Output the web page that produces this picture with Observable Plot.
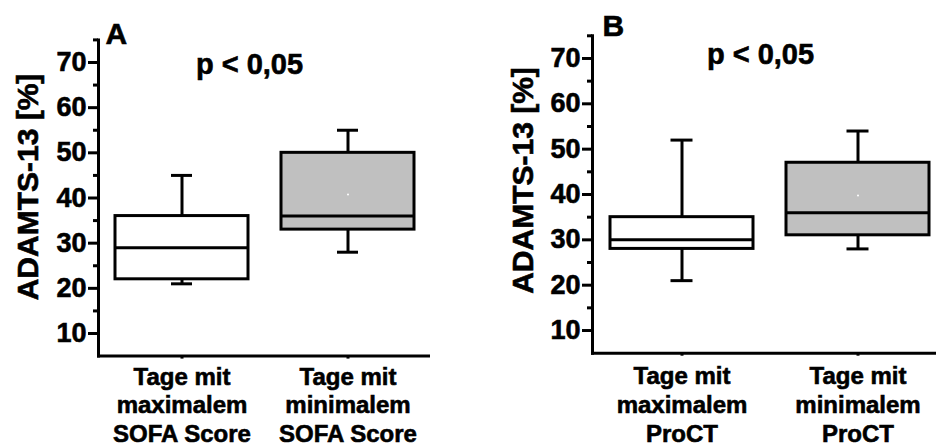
<!DOCTYPE html>
<html>
<head>
<meta charset="utf-8">
<script src="https://cdn.jsdelivr.net/npm/d3@7"></script>
<script src="https://cdn.jsdelivr.net/npm/@observablehq/plot@0.6"></script>
<style>
  html, body { margin: 0; padding: 0; background: #fff; }
  #wrap { display: flex; flex-direction: row; width: 936px; height: 447px; }
  svg { display: block; }
  svg text { stroke: #000; stroke-width: 0.6px; }
  svg g[aria-label="frame"], svg g[aria-label="frame"] * { stroke-width: 3px !important; stroke: #000 !important; }
  svg g[aria-label="y-axis tick"], svg g[aria-label="y-axis tick"] * { stroke-width: 3px !important; }
  svg g[aria-label="x-axis tick"], svg g[aria-label="x-axis tick"] * { stroke-width: 3px !important; }
</style>
</head>
<body>
<div id="wrap"></div>
<script>
// ---- data ----
const catsA = ["Tage mit\nmaximalem\nSOFA Score", "Tage mit\nminimalem\nSOFA Score"];
const loA  = [21, 28];
const q1A  = [22, 33];
const medA = [29, 36];
const q3A  = [36, 50];
const hiA  = [45, 55];
const meanA = [null, 40.8];

const catsB = ["Tage mit\nmaximalem\nProCT", "Tage mit\nminimalem\nProCT"];
const loB  = [21, 28];
const q1B  = [28, 31];
const medB = [30, 36];
const q3B  = [35, 47];
const hiB  = [52, 54];
const meanB = [null, 39.8];

const yDomain = [5, 75];
const majorTicks = [10, 20, 30, 40, 50, 60, 70];
const minorTicks = [15, 25, 35, 45, 55, 65, 75];
const yLabel = "ADAMTS-13 [%]";
const pText = "p < 0,05";
const panelLetters = ["A", "B"];

// ---- styles ----
const FONT = "'Liberation Sans', Arial, sans-serif";
const boxFills = ["white", "#c0c0c0"];

function rows(cats, lo, q1, med, q3, hi, mean) {
  return cats.map((c, i) => ({cat: c, lo: lo[i], q1: q1[i], med: med[i], q3: q3[i], hi: hi[i], mean: mean[i]}));
}

function panel(o) {
  const data = rows(o.cats, o.lo, o.q1, o.med, o.q3, o.hi, o.mean);
  return Plot.plot({
    width: 468,
    height: 447,
    marginLeft: o.ml,
    marginRight: o.mr,
    marginTop: o.mt,
    marginBottom: o.mb,
    style: {fontFamily: FONT, background: "white", overflow: "visible"},
    x: {domain: o.cats, range: o.xr, paddingInner: o.pi, paddingOuter: 0.1},
    y: {domain: yDomain},
    color: {domain: o.cats, range: boxFills},
    marks: [
      // whiskers
      Plot.ruleX(data, {x: "cat", y1: "lo", y2: "hi", stroke: "black", strokeWidth: 3}),
      Plot.tickY(data, {x: "cat", y: "hi", stroke: "black", strokeWidth: 3, insetLeft: o.cap, insetRight: o.cap}),
      Plot.tickY(data, {x: "cat", y: "lo", stroke: "black", strokeWidth: 3, insetLeft: o.cap, insetRight: o.cap}),
      // box
      Plot.barY(data, {x: "cat", y1: "q1", y2: "q3", fill: "cat", stroke: "black", strokeWidth: 3}),
      Plot.tickY(data, {x: "cat", y: "med", stroke: "black", strokeWidth: 3}),
      Plot.dot(data.filter(d => d.mean != null), {x: "cat", y: "mean", r: 1, fill: "white", stroke: null}),
      // axes
      Plot.frame({anchor: "left", stroke: "black", strokeWidth: 3}),
      Plot.frame({anchor: "bottom", stroke: "black", strokeWidth: 3}),
      Plot.axisY(majorTicks, {tickSize: 10, tickPadding: 2, strokeWidth: 3, fontSize: 27, fontWeight: "bold", label: null}),
      Plot.axisY(minorTicks, {tickSize: 5, strokeWidth: 3, tickFormat: () => "", label: null}),
      Plot.axisX({tickSize: 3, tickPadding: o.xtp, strokeWidth: 3, fontSize: 24, fontWeight: "bold", lineHeight: 1.2, label: null}),
      // texts
      Plot.text([yLabel], {frameAnchor: "left", dx: o.ylx, dy: o.yly, rotate: -90, fontSize: 30, fontWeight: "bold", textAnchor: "middle", lineAnchor: "middle"}),
      Plot.text([o.letter], {frameAnchor: "top-left", dx: o.ldx, dy: o.ldy, fontSize: 30, fontWeight: "bold", textAnchor: "start", lineAnchor: "bottom"}),
      Plot.text([pText], {frameAnchor: "top", dx: o.pdx, dy: o.pdy, fontSize: 29, fontWeight: "bold", textAnchor: "middle", lineAnchor: "bottom"})
    ]
  });
}

const wrap = document.getElementById("wrap");
wrap.appendChild(panel({
  cats: catsA, lo: loA, q1: q1A, med: medA, q3: q3A, hi: hiA, mean: meanA,
  ml: 98, mr: 40, mt: 39.4, mb: 91.4, xr: [98, 430], pi: 0.2, cap: 56, xtp: 5,
  ylx: -70, yly: -11, letter: panelLetters[0], ldx: 7, ldy: 4, pdx: -14, pdy: 33.6
}));
wrap.appendChild(panel({
  cats: catsB, lo: loB, q1: q1B, med: medB, q3: q3B, hi: hiB, mean: meanB,
  ml: 124, mr: 0, mt: 35.3, mb: 94.3, xr: [124, 478], pi: 0.19, cap: 60.5, xtp: 7.5,
  ylx: -69, yly: -14, letter: panelLetters[1], ldx: 10, ldy: 0, pdx: -4, pdy: 27.7
}));
</script>
</body>
</html>
